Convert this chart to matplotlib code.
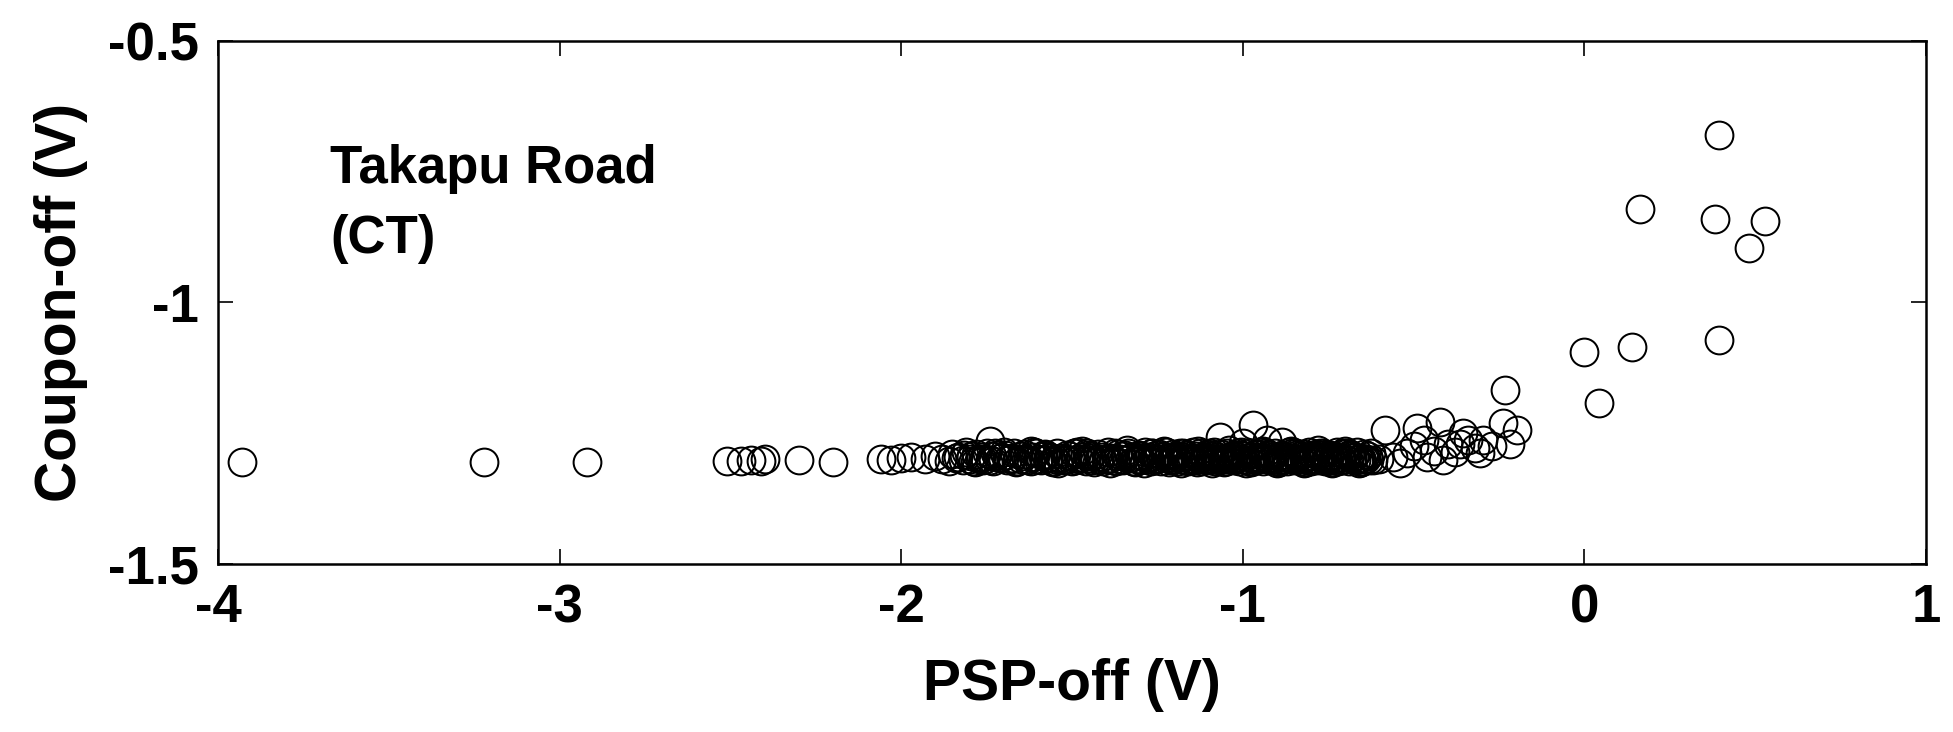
import matplotlib.pyplot as plt
from matplotlib.ticker import MultipleLocator, FuncFormatter

plt.rcParams['font.family'] = ['Liberation Sans', 'DejaVu Sans']
plt.rcParams['font.weight'] = 'bold'
plt.rcParams['axes.unicode_minus'] = False

# isolated points on the left (PSP-off very negative)
left_x = [-3.93, -3.22, -2.92, -2.51, -2.47, -2.44, -2.41, -2.40, -2.30, -2.20,
          -2.06, -2.03, -2.00, -1.97, -1.93, -1.90]
left_y = [-1.305, -1.305, -1.305, -1.303, -1.303, -1.302, -1.303, -1.300, -1.302, -1.305,
          -1.300, -1.302, -1.298, -1.296, -1.300, -1.294]

# dense band, lower row
band_x1 = [-1.88, -1.86, -1.84, -1.82, -1.80, -1.79, -1.77, -1.76, -1.74, -1.73,
           -1.71, -1.69, -1.68, -1.66, -1.65, -1.63, -1.62, -1.60, -1.59, -1.57,
           -1.56, -1.55, -1.53, -1.52, -1.50, -1.49, -1.48, -1.46, -1.45, -1.44,
           -1.42, -1.41, -1.40, -1.38, -1.37, -1.36, -1.35, -1.33, -1.32, -1.31,
           -1.30, -1.28, -1.27, -1.26, -1.25, -1.24, -1.22, -1.21, -1.20, -1.19,
           -1.18, -1.17, -1.16, -1.15, -1.14, -1.13, -1.12, -1.11, -1.10, -1.09,
           -1.08, -1.07, -1.06, -1.05, -1.04, -1.03, -1.02, -1.01, -1.00, -0.99,
           -0.98, -0.97, -0.96, -0.95, -0.94, -0.93, -0.92, -0.91, -0.90, -0.89,
           -0.88, -0.87, -0.86, -0.85, -0.84, -0.83, -0.82, -0.81, -0.80, -0.79,
           -0.78, -0.77, -0.76, -0.75, -0.74, -0.73, -0.72, -0.71, -0.70, -0.69,
           -0.68, -0.67, -0.66, -0.65, -0.64, -0.63, -0.62]
band_y1 = [-1.300, -1.303, -1.298, -1.302, -1.300, -1.304, -1.299, -1.302, -1.301, -1.303,
           -1.298, -1.302, -1.300, -1.304, -1.299, -1.301, -1.303, -1.300, -1.302, -1.298,
           -1.304, -1.300, -1.302, -1.299, -1.303, -1.301, -1.300, -1.304, -1.298, -1.302,
           -1.300, -1.303, -1.299, -1.301, -1.304, -1.300, -1.302, -1.298, -1.303, -1.300,
           -1.302, -1.299, -1.304, -1.301, -1.300, -1.303, -1.298, -1.302, -1.300, -1.304,
           -1.299, -1.301, -1.303, -1.300, -1.302, -1.298, -1.304, -1.300, -1.302, -1.299,
           -1.303, -1.301, -1.300, -1.304, -1.298, -1.302, -1.300, -1.303, -1.299, -1.301,
           -1.304, -1.300, -1.302, -1.298, -1.303, -1.300, -1.302, -1.299, -1.304, -1.301,
           -1.300, -1.303, -1.298, -1.302, -1.300, -1.304, -1.299, -1.301, -1.303, -1.300,
           -1.302, -1.298, -1.304, -1.300, -1.302, -1.299, -1.303, -1.301, -1.300, -1.304,
           -1.298, -1.302, -1.300, -1.303, -1.299, -1.301, -1.302]

# dense band, upper row
band_x2 = [-1.85, -1.81, -1.78, -1.75, -1.72, -1.70, -1.67, -1.64, -1.61, -1.58,
           -1.545, -1.515, -1.485, -1.455, -1.425, -1.395, -1.365, -1.335, -1.305, -1.285,
           -1.265, -1.245, -1.225, -1.205, -1.185, -1.165, -1.145, -1.125, -1.105, -1.085,
           -1.065, -1.045, -1.025, -1.005, -0.985, -0.965, -0.945, -0.925, -0.905, -0.885,
           -0.865, -0.845, -0.825, -0.805, -0.785, -0.765, -0.745, -0.725, -0.705, -0.685,
           -0.665, -0.645, -0.625]
band_y2 = [-1.290, -1.286, -1.289, -1.287, -1.291, -1.285, -1.288, -1.290, -1.286, -1.289,
           -1.287, -1.291, -1.285, -1.288, -1.290, -1.286, -1.289, -1.287, -1.291, -1.285,
           -1.288, -1.290, -1.286, -1.289, -1.287, -1.291, -1.285, -1.288, -1.290, -1.286,
           -1.289, -1.287, -1.291, -1.285, -1.288, -1.290, -1.286, -1.289, -1.287, -1.291,
           -1.285, -1.288, -1.290, -1.286, -1.289, -1.287, -1.291, -1.285, -1.288, -1.290,
           -1.286, -1.289, -1.287]

# dense band, middle rows (fills the core of the cloud)
band_x3 = [-1.835, -1.795, -1.765, -1.735, -1.705, -1.675, -1.645, -1.615, -1.585, -1.565,
           -1.535, -1.505, -1.475, -1.445, -1.415, -1.385, -1.355, -1.325, -1.295, -1.275,
           -1.255, -1.235, -1.215, -1.195, -1.175, -1.155, -1.135, -1.115, -1.095, -1.075,
           -1.055, -1.035, -1.015, -0.995, -0.975, -0.955, -0.935, -0.915, -0.895, -0.875,
           -0.855, -0.835, -0.815, -0.795, -0.775, -0.755, -0.735, -0.715, -0.695, -0.675,
           -0.655, -0.635]
band_y3 = [-1.295, -1.294, -1.296, -1.293, -1.295, -1.297, -1.294, -1.296, -1.293, -1.295,
           -1.297, -1.294, -1.296, -1.293, -1.295, -1.297, -1.294, -1.296, -1.293, -1.295,
           -1.297, -1.294, -1.296, -1.293, -1.295, -1.297, -1.294, -1.296, -1.293, -1.295,
           -1.297, -1.294, -1.296, -1.293, -1.295, -1.297, -1.294, -1.296, -1.293, -1.295,
           -1.297, -1.294, -1.296, -1.293, -1.295, -1.297, -1.294, -1.296, -1.293, -1.295,
           -1.297, -1.294]
band_x4 = [-1.62, -1.54, -1.47, -1.39, -1.34, -1.29, -1.23, -1.18, -1.13, -1.09,
           -1.04, -0.99, -0.94, -0.90, -0.86, -0.82, -0.78, -0.74, -0.70, -0.66]
band_y4 = [-1.283, -1.306, -1.284, -1.307, -1.282, -1.306, -1.283, -1.307, -1.284, -1.306,
           -1.282, -1.307, -1.283, -1.306, -1.284, -1.307, -1.282, -1.306, -1.283, -1.307]
band_x5 = [-1.815, -1.755, -1.695, -1.635, -1.575, -1.515, -1.455, -1.395, -1.345, -1.305,
           -1.255, -1.205, -1.165, -1.125, -1.085, -1.045, -1.005, -0.965, -0.925, -0.885,
           -0.845, -0.805, -0.765, -0.725, -0.685, -0.645]
band_y5 = [-1.292, -1.299, -1.292, -1.299, -1.292, -1.299, -1.292, -1.299, -1.292, -1.299,
           -1.292, -1.299, -1.292, -1.299, -1.292, -1.299, -1.292, -1.299, -1.292, -1.299,
           -1.292, -1.299, -1.292, -1.299, -1.292, -1.299]
band_x6 = [-1.785, -1.725, -1.665, -1.605, -1.555, -1.495, -1.435, -1.375, -1.315, -1.265,
           -1.215, -1.175, -1.135, -1.095, -1.055, -1.015, -0.975, -0.935, -0.895, -0.855,
           -0.815, -0.775, -0.735, -0.695, -0.655]
band_y6 = [-1.305, -1.288, -1.305, -1.288, -1.305, -1.288, -1.305, -1.288, -1.305, -1.288,
           -1.305, -1.288, -1.305, -1.288, -1.305, -1.288, -1.305, -1.288, -1.305, -1.288,
           -1.305, -1.288, -1.305, -1.288, -1.305]

# points sitting above the band
bump_x = [-1.74, -1.067, -1.00, -0.970, -0.885, -0.93, -0.584]
bump_y = [-1.265, -1.257, -1.268, -1.234, -1.267, -1.262, -1.244]

# rising tail near -0.5 .. -0.2
tail_x = [-0.60, -0.56, -0.54, -0.52, -0.50, -0.49, -0.47, -0.46, -0.44, -0.423,
          -0.414, -0.40, -0.38, -0.364, -0.355, -0.34, -0.32, -0.306, -0.297, -0.27,
          -0.238, -0.232, -0.218, -0.197]
tail_y = [-1.300, -1.296, -1.307, -1.288, -1.275, -1.240, -1.262, -1.295, -1.284, -1.228,
          -1.301, -1.270, -1.286, -1.270, -1.250, -1.262, -1.278, -1.288, -1.263, -1.274,
          -1.230, -1.167, -1.270, -1.244]

# scattered points at positive PSP-off
right_x = [0.00, 0.044, 0.139, 0.164, 0.394, 0.383, 0.394, 0.529, 0.482]
right_y = [-1.095, -1.193, -1.086, -0.821, -0.679, -0.840, -1.071, -0.845, -0.895]

psp_off = (left_x + band_x1 + band_x2 + band_x3 + band_x4 + band_x5 + band_x6
           + bump_x + tail_x + right_x)
coupon_off = (left_y + band_y1 + band_y2 + band_y3 + band_y4 + band_y5 + band_y6
              + bump_y + tail_y + right_y)

fig = plt.figure(figsize=(19.53, 7.32), dpi=100)
ax = fig.add_axes([0.1116, 0.2295, 0.8746, 0.7145])

ax.plot(psp_off, coupon_off, 'o', mfc='none', mec='black', ms=20, mew=1.45)

ax.set_xlim(-4, 1)
ax.set_ylim(-1.5, -0.5)
ax.xaxis.set_major_locator(MultipleLocator(1))
ax.yaxis.set_major_locator(MultipleLocator(0.5))
ax.xaxis.set_major_formatter(FuncFormatter(lambda v, p: '%g' % v))
ax.yaxis.set_major_formatter(FuncFormatter(lambda v, p: '%g' % v))
ax.tick_params(direction='in', top=True, right=True, length=11, width=1.2,
               labelsize=38, pad=14)
for s in ax.spines.values():
    s.set_linewidth(1.8)

ax.set_xlabel('PSP-off (V)', fontsize=41, fontweight='bold', labelpad=18)
ax.set_ylabel('Coupon-off (V)', fontsize=41, fontweight='bold', labelpad=14)

ax.text(-3.672, -0.771, 'Takapu Road', fontsize=38, fontweight='bold', va='baseline')
ax.text(-3.672, -0.905, '(CT)', fontsize=38, fontweight='bold', va='baseline')

fig.savefig('out.png', dpi=100)
